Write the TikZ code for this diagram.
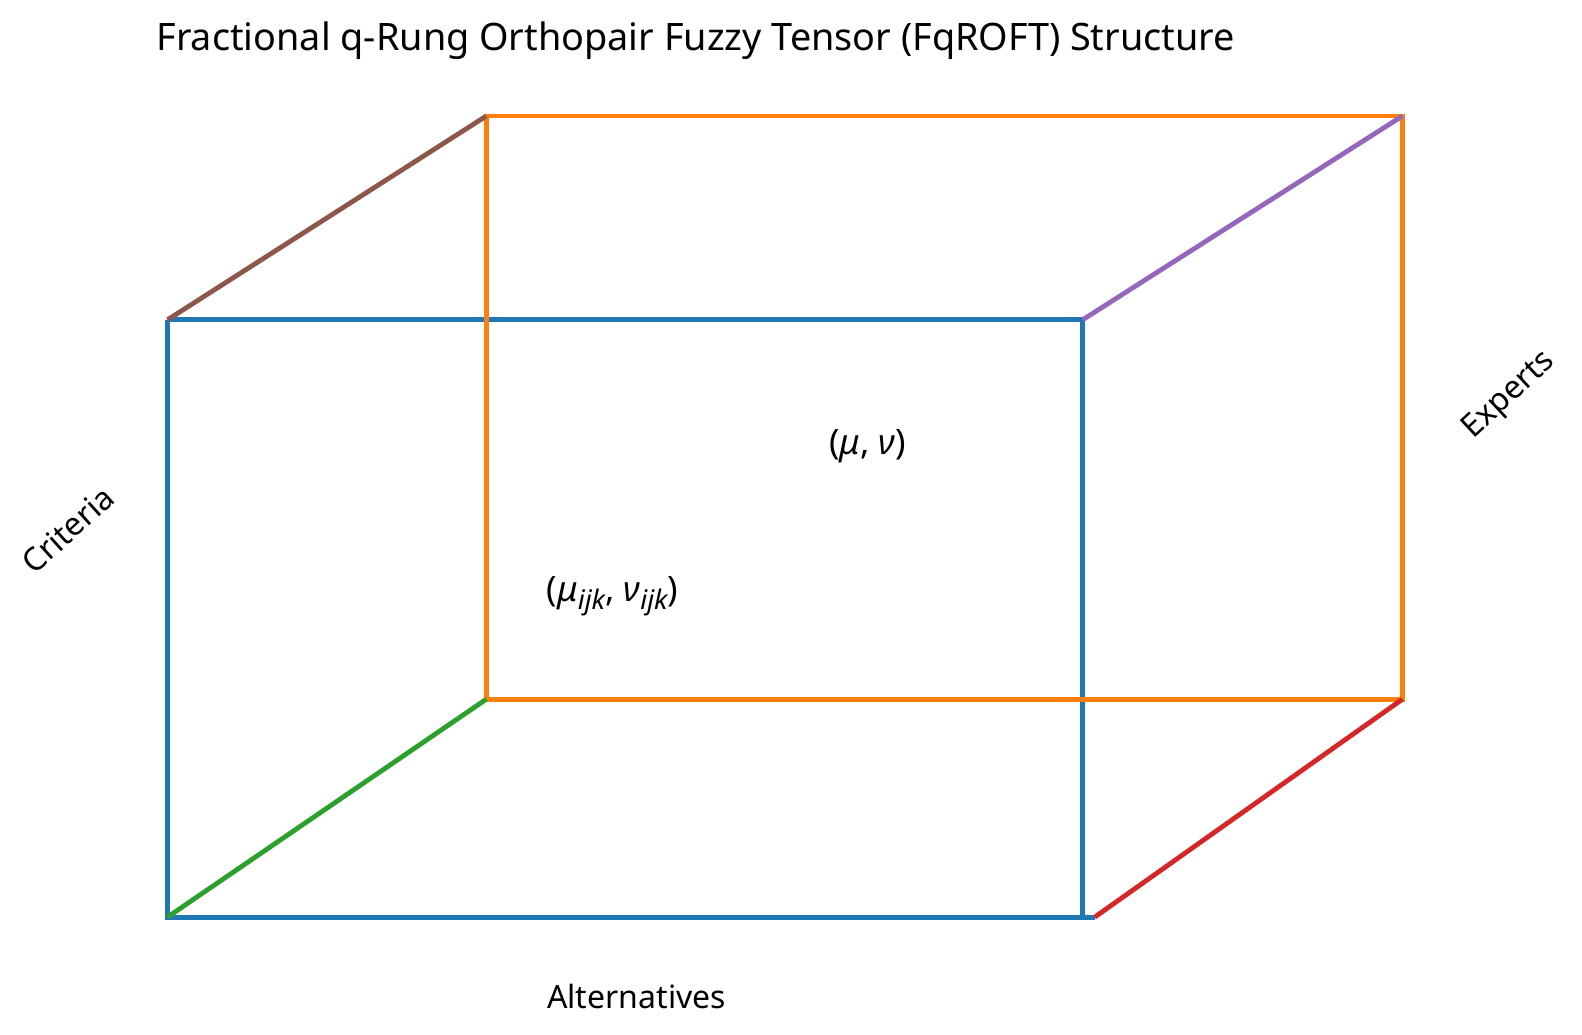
\documentclass[tikz,border=0pt]{standalone}
\usepackage{fontspec}
\setmainfont{Noto Sans}
\definecolor{tblue}{HTML}{1F77B4}
\definecolor{torange}{HTML}{FF7F0E}
\definecolor{tgreen}{HTML}{2CA02C}
\definecolor{tred}{HTML}{D62728}
\definecolor{tpurple}{HTML}{9467BD}
\definecolor{tbrown}{HTML}{8C564B}
\newcommand\mysub[1]{\raisebox{-0.22em}{\fontsize{27}{30}\selectfont\itshape #1}}
\begin{document}
\begin{tikzpicture}[x=1pt,y=-1pt,
  edge/.style={line width=4.8pt,line cap=butt,line join=miter},
  lbl/.style={inner sep=0pt,font=\fontsize{32}{38}\selectfont},
  mth/.style={inner sep=0pt,font=\fontsize{35}{40}\selectfont}]
\useasboundingbox (0,0) rectangle (1582,1034);
\fill[white] (0,0) rectangle (1582,1034);
% corners
\coordinate (ftl) at (167.5,319.8);
\coordinate (ftr) at (1082.6,319.8);
\coordinate (fbl) at (167.5,917.1);
\coordinate (fbr) at (1082.6,917.1);
\coordinate (fbx) at (1094.7,917.1);
\coordinate (btl) at (486.3,116.0);
\coordinate (btr) at (1402.4,116.0);
\coordinate (bbl) at (486.3,699.2);
\coordinate (bbr) at (1402.4,699.2);
% front (blue)
\draw[edge,tblue] (ftl) -- (ftr) -- (fbr);
\draw[edge,tblue] (ftl) -- (fbl) -- (fbx);
% back (orange)
\draw[edge,torange] (btl) -- (btr) -- (bbr) -- (bbl) -- cycle;
% depth edges
\draw[edge,tbrown] (ftl) -- (btl);
\draw[edge,tpurple] (ftr) -- (btr);
\draw[edge,tgreen] (fbl) -- (bbl);
\draw[edge,tred] (fbx) -- (bbr);
% texts
\node[lbl,font=\fontsize{37.8}{44}\selectfont] (title) at (695.7,40.4) {Fractional q-Rung Orthopair Fuzzy Tensor (FqROFT) Structure};
\node[mth] (elem) at (612.4,596.3) {(\textit{μ}\mysub{ijk}, \textit{ν}\mysub{ijk})};
\node[mth] (pair) at (867.7,446) {(\textit{μ}, \textit{ν})};
\node[lbl,rotate=42] (crit) at (67.6,529.7) {Criteria};
\node[lbl,rotate=43] (exp) at (1509.4,395.5) {Experts};
\node[lbl] (alt) at (636.6,996.8) {Alternatives};
\end{tikzpicture}
\end{document}
